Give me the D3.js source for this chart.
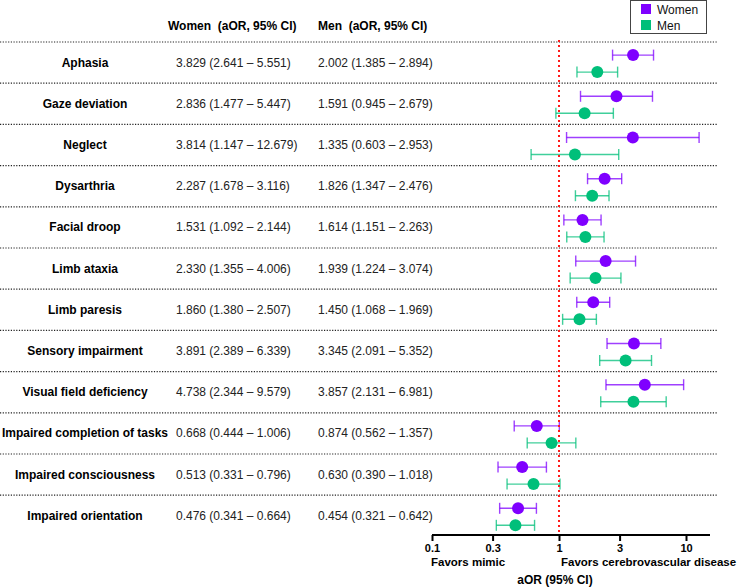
<!DOCTYPE html>
<html>
<head>
<meta charset="utf-8">
<script src="https://cdn.jsdelivr.net/npm/d3@7"></script>
<style>
  body { margin: 0; background: #fff; }
  text { font-family: "Liberation Sans", Arial, sans-serif; white-space: pre; }
</style>
</head>
<body>
<div id="chart"></div>
<script>
// symptoms, top to bottom
var symptoms = ["Aphasia", "Gaze deviation", "Neglect", "Dysarthria", "Facial droop",
  "Limb ataxia", "Limb paresis", "Sensory impairment", "Visual field deficiency",
  "Impaired completion of tasks", "Impaired consciousness", "Impaired orientation"];

var womenOR = [3.829, 2.836, 3.814, 2.287, 1.531, 2.330, 1.860, 3.891, 4.738, 0.668, 0.513, 0.476];
var womenLo = [2.641, 1.477, 1.147, 1.678, 1.092, 1.355, 1.380, 2.389, 2.344, 0.444, 0.331, 0.341];
var womenHi = [5.551, 5.447, 12.679, 3.116, 2.144, 4.006, 2.507, 6.339, 9.579, 1.006, 0.796, 0.664];

var menOR = [2.002, 1.591, 1.335, 1.826, 1.614, 1.939, 1.450, 3.345, 3.857, 0.874, 0.630, 0.454];
var menLo = [1.385, 0.945, 0.603, 1.347, 1.151, 1.224, 1.068, 2.091, 2.131, 0.562, 0.390, 0.321];
var menHi = [2.894, 2.679, 2.953, 2.476, 2.263, 3.074, 1.969, 5.352, 6.981, 1.357, 1.018, 0.642];

var tickVals = [0.1, 0.3, 1, 3, 10];

var width = 741, height = 587;
var rowTop = 42, rowH = 41.2;
var purple = "#7f00ff", green = "#00bf7a";

var svg = d3.select("#chart").append("svg")
  .attr("width", width)
  .attr("height", height);

var x = d3.scaleLog().domain([0.1, 10]).range([432, 686]);
var y = d3.scaleBand().domain(symptoms).range([rowTop, rowTop + rowH * symptoms.length]);

function fmt(v) {
  return d3.format(".3f")(v);
}

// header
svg.append("text").attr("x", 168).attr("y", 30)
  .style("font-size", "12px").style("font-weight", "bold")
  .text("Women  (aOR, 95% CI)");
svg.append("text").attr("x", 318).attr("y", 30)
  .style("font-size", "12px").style("font-weight", "bold")
  .text("Men  (aOR, 95% CI)");

// row separators
svg.selectAll("line.sep")
  .data(symptoms)
  .enter()
  .append("line")
    .attr("class", "sep")
    .attr("x1", 0).attr("x2", 717)
    .attr("y1", function(d) { return y(d); })
    .attr("y2", function(d) { return y(d); })
    .attr("stroke", "#222")
    .attr("stroke-width", 1.2)
    .attr("stroke-dasharray", "1.2,1.5");

var rows = svg.selectAll("g.row")
  .data(symptoms)
  .enter()
  .append("g")
    .attr("class", "row")
    .attr("transform", function(d) { return "translate(0," + (y(d) + y.bandwidth() / 2) + ")"; });

rows.append("text")
  .attr("x", 85).attr("y", 4)
  .attr("text-anchor", "middle")
  .style("font-size", "12px").style("font-weight", "bold")
  .text(function(d) { return d; });

rows.append("text")
  .attr("x", 176).attr("y", 4)
  .style("font-size", "12px").attr("fill", "#222")
  .text(function(d, i) { return fmt(womenOR[i]) + " (" + fmt(womenLo[i]) + " \u2013 " + fmt(womenHi[i]) + ")"; });

rows.append("text")
  .attr("x", 318).attr("y", 4)
  .style("font-size", "12px").attr("fill", "#222")
  .text(function(d, i) { return fmt(menOR[i]) + " (" + fmt(menLo[i]) + " \u2013 " + fmt(menHi[i]) + ")"; });

// red reference line at 1
svg.append("line")
  .attr("x1", x(1)).attr("x2", x(1))
  .attr("y1", 40).attr("y2", 535)
  .attr("stroke", "#ff1a1a")
  .attr("stroke-width", 2)
  .attr("stroke-dasharray", "2,3");

function drawSeries(est, lo, hi, color, dy) {
  var g = rows.append("g").attr("transform", "translate(0," + dy + ")");
  g.append("line")
    .attr("x1", function(d, i) { return x(lo[i]); })
    .attr("x2", function(d, i) { return x(hi[i]); })
    .attr("stroke", color).attr("stroke-width", 1.4).attr("stroke-opacity", 0.75);
  g.append("line")
    .attr("x1", function(d, i) { return x(lo[i]); })
    .attr("x2", function(d, i) { return x(lo[i]); })
    .attr("y1", -5.5).attr("y2", 5.5)
    .attr("stroke", color).attr("stroke-width", 1.4).attr("stroke-opacity", 0.75);
  g.append("line")
    .attr("x1", function(d, i) { return x(hi[i]); })
    .attr("x2", function(d, i) { return x(hi[i]); })
    .attr("y1", -5.5).attr("y2", 5.5)
    .attr("stroke", color).attr("stroke-width", 1.4).attr("stroke-opacity", 0.75);
  g.append("circle")
    .attr("cx", function(d, i) { return x(est[i]); })
    .attr("r", 6)
    .attr("fill", color);
}

drawSeries(womenOR, womenLo, womenHi, purple, -7.5);
drawSeries(menOR, menLo, menHi, green, 9.5);

// x axis
var axisY = 535;
var axis = d3.axisBottom(x)
  .tickValues(tickVals)
  .tickFormat(function(d) { return String(d); })
  .tickSize(6)
  .tickSizeOuter(0);

var ax = svg.append("g")
  .attr("transform", "translate(0," + axisY + ")")
  .call(axis);
ax.select(".domain").remove();
ax.append("line")
  .attr("x1", 432).attr("x2", 710)
  .attr("stroke", "#000").attr("stroke-width", 2);
ax.selectAll(".tick line").attr("stroke", "#000").attr("stroke-width", 2);
ax.selectAll(".tick text")
  .attr("y", 9)
  .style("font-family", "Liberation Sans, Arial, sans-serif")
  .style("font-size", "11px").style("font-weight", "bold").attr("fill", "#000");

svg.append("text").attr("x", 431).attr("y", 566)
  .style("font-size", "11.5px").style("font-weight", "bold")
  .text("Favors mimic");
svg.append("text").attr("x", 561).attr("y", 566)
  .style("font-size", "11.5px").style("font-weight", "bold")
  .text("Favors cerebrovascular disease");
svg.append("text").attr("x", 555).attr("y", 584)
  .attr("text-anchor", "middle")
  .style("font-size", "12px").style("font-weight", "bold")
  .text("aOR (95% CI)");

// legend
var legend = svg.append("g");
legend.append("rect")
  .attr("x", 630.5).attr("y", 0.5).attr("width", 76).attr("height", 33)
  .attr("fill", "#fff").attr("stroke", "#444");
var legendItems = [["Women", purple], ["Men", green]];
legend.selectAll("g.item")
  .data(legendItems)
  .enter()
  .append("g")
    .attr("transform", function(d, i) { return "translate(641," + (4 + i * 16) + ")"; })
    .each(function(d) {
      var it = d3.select(this);
      it.append("rect").attr("width", 10).attr("height", 10).attr("fill", d[1]);
      it.append("text").attr("x", 16).attr("y", 10)
        .style("font-size", "12px").attr("fill", "#111").text(d[0]);
    });
</script>
</body>
</html>
